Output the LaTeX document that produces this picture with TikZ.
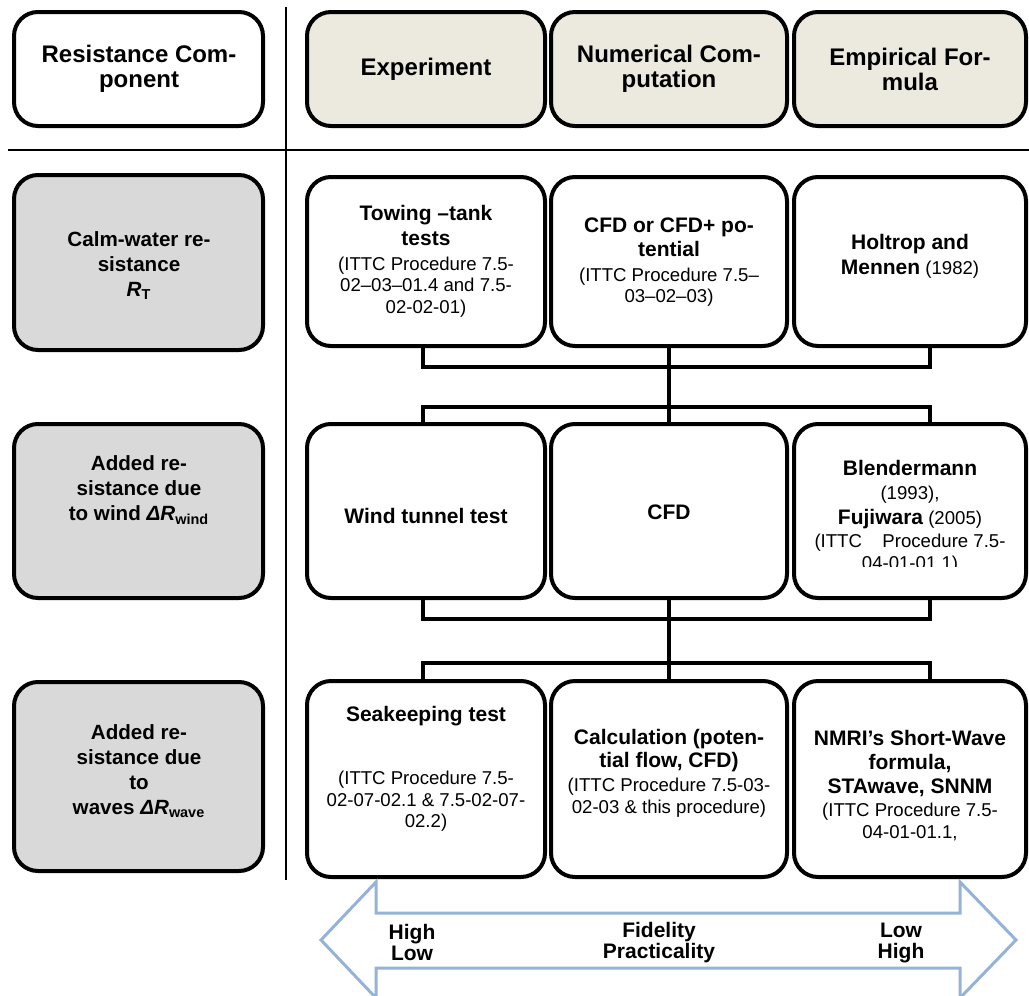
\documentclass[tikz,border=0pt]{standalone}
\usepackage{fontspec}
\setmainfont{Liberation Sans}
\usepackage{tikz}

\definecolor{headfill}{RGB}{236,233,223}
\definecolor{compfill}{RGB}{217,217,217}
\definecolor{arrowblue}{RGB}{149,179,215}

\newcommand{\cb}[1]{{\bfseries\fontsize{10.5}{10.75}\selectfont #1}}
\newcommand{\tightlines}{\setlength{\lineskiplimit}{-10pt}}

\tikzset{
  cell/.style 2 args={draw, line width=2pt, rounded corners=12pt, inner sep=0pt, minimum width=#1, minimum height=#2},
  headtxt/.style={font=\bfseries\fontsize{12}{12.5}\selectfont, align=center},
  comptxt/.style={font=\bfseries\fontsize{10.3}{12.5}\selectfont\tightlines, align=center},
  celltxt/.style={font=\fontsize{9.3}{10.75}\selectfont\tightlines, align=center},
  arrtxt/.style={font=\bfseries\fontsize{10.5}{10.5}\selectfont\tightlines, align=center},
  link/.style={line width=2pt},
  rule/.style={line width=1pt}
}

\begin{document}
\begin{tikzpicture}[x=0.5pt,y=-0.5pt]
\useasboundingbox (0,0) rectangle (1029,996);

\draw[rule] (286,7) -- (286,880);
\draw[rule] (8,150) -- (1029,150);

\node[cell={124.5pt}{57pt}] (comp) at (138.5,69) {};
\node[cell={119pt}{57pt}, fill=headfill] (exp) at (426,69) {};
\node[cell={118pt}{57pt}, fill=headfill] (num) at (669,69) {};
\node[cell={116pt}{57pt}, fill=headfill] (emp) at (910,69) {};
\node[headtxt] (comptext) at (139,69) {Resistance Com-\\ponent};
\node[headtxt] (exptext) at (426,69) {Experiment};
\node[headtxt] (numtext) at (669,69) {Numerical Com-\\putation};
\node[headtxt] (emptext) at (910,69) {Empirical For-\\mula};

\node[cell={124.5pt}{87.5pt}, fill=compfill] (calm) at (138.5,262.5) {};
\node[cell={124.5pt}{87pt}, fill=compfill] (wind) at (138.5,511) {};
\node[cell={124.5pt}{94.5pt}, fill=compfill] (wave) at (138.5,776.5) {};
\node[comptxt] (calmtext) at (139,266) {Calm-water re-\\sistance\\ \textit{R}\textsubscript{T}};
\node[comptxt] (windtext) at (139,490) {Added re-\\sistance due\\to wind \textit{ΔR}\textsubscript{wind}};
\node[comptxt] (wavetext) at (139,771) {Added re-\\sistance due\\to\\waves \textit{ΔR}\textsubscript{wave}};

\node[cell={119pt}{84.5pt}] (tow) at (426,261.5) {};
\node[cell={118pt}{84.5pt}] (cfda) at (669,261.5) {};
\node[cell={116pt}{84.5pt}] (hol) at (910,261.5) {};
\node[celltxt] (towtext) at (426,261) {\cb{Towing –tank}\\[1.75pt]\cb{tests}\\[1.75pt](ITTC Procedure 7.5-\\02–03–01.4 and 7.5-\\02-02-01)};
\node[celltxt] (cfdatext) at (669,262) {\cb{CFD or CFD+ po-}\\[1.5pt]\cb{tential}\\[1.5pt](ITTC Procedure 7.5–\\03–02–03)};
\node[celltxt] (holtext) at (910,256) {\cb{Holtrop and}\\[1.75pt]\cb{Mennen} (1982)};

\node[cell={119pt}{87pt}] (wtt) at (426,511) {};
\node[cell={118pt}{87pt}] (cfdb) at (669,511) {};
\node[cell={116pt}{87pt}] (bld) at (910,511) {};
\node[celltxt] (wtttext) at (426,516) {\cb{Wind tunnel test}};
\node[celltxt] (cfdbtext) at (669,512) {\cb{CFD}};
\begin{scope}
\clip (792,424) rectangle (1029,566);
\node[celltxt] (bldtext) at (910,517) {\cb{Blendermann}\\[1.25pt](1993),\\[1.75pt]\cb{Fujiwara} (2005)\\[0.75pt](ITTC\hspace{1.1em}Procedure 7.5-\\04-01-01.1)};
\end{scope}

\node[cell={119pt}{98pt}] (sea) at (426,779) {};
\node[cell={118pt}{98pt}] (calc) at (669,779) {};
\node[cell={116pt}{98pt}] (nmri) at (910,779) {};
\node[celltxt] (seatext) at (426,769) {\cb{Seakeeping test}\\[20.75pt](ITTC Procedure 7.5-\\02-07-02.1 \& 7.5-02-07-\\02.2)};
\node[celltxt] (calctext) at (669,773.5) {\cb{Calculation (poten-}\\[0.75pt]\cb{tial flow, CFD)}\\[1.25pt](ITTC Procedure 7.5-03-\\02-03 \& this procedure)};
\node[celltxt] (nmritext) at (910,785.5) {\cb{NMRI’s Short-Wave}\\[1.25pt]\cb{formula,}\\[1.25pt]\cb{STAwave, SNNM}\\[0.75pt](ITTC Procedure 7.5-\\04-01-01.1,};

\coordinate (k1w) at (423,367);
\coordinate (k1e) at (930,367);
\coordinate (k2w) at (423,407);
\coordinate (k2e) at (930,407);
\coordinate (k3w) at (423,619);
\coordinate (k3e) at (930,619);
\coordinate (k4w) at (423,663);
\coordinate (k4e) at (930,663);

\draw[link] (k1w |- tow.south) -- (k1w) -- (k1e) -- (k1e |- hol.south);
\draw[link] (k2w |- wtt.north) -- (k2w) -- (k2e) -- (k2e |- bld.north);
\draw[link] (cfda.south) -- (cfdb.north);
\draw[link] (k3w |- wtt.south) -- (k3w) -- (k3e) -- (k3e |- bld.south);
\draw[link] (k4w |- sea.north) -- (k4w) -- (k4e) -- (k4e |- nmri.north);
\draw[link] (cfdb.south) -- (calc.north);

\draw[arrowblue, line width=1.5pt] (321,940) -- (376,882) -- (376,913) -- (960,913) -- (960,882) -- (1016,940) -- (960,998) -- (960,968) -- (376,968) -- (376,998) -- cycle;
\node[arrtxt] (fidlo) at (412,942.5) {High\\Low};
\node[arrtxt] (fidmid) at (659,942.5) {Fidelity\\Practicality};
\node[arrtxt] (fidhi) at (901,942.5) {Low\\High};
\end{tikzpicture}
\end{document}
